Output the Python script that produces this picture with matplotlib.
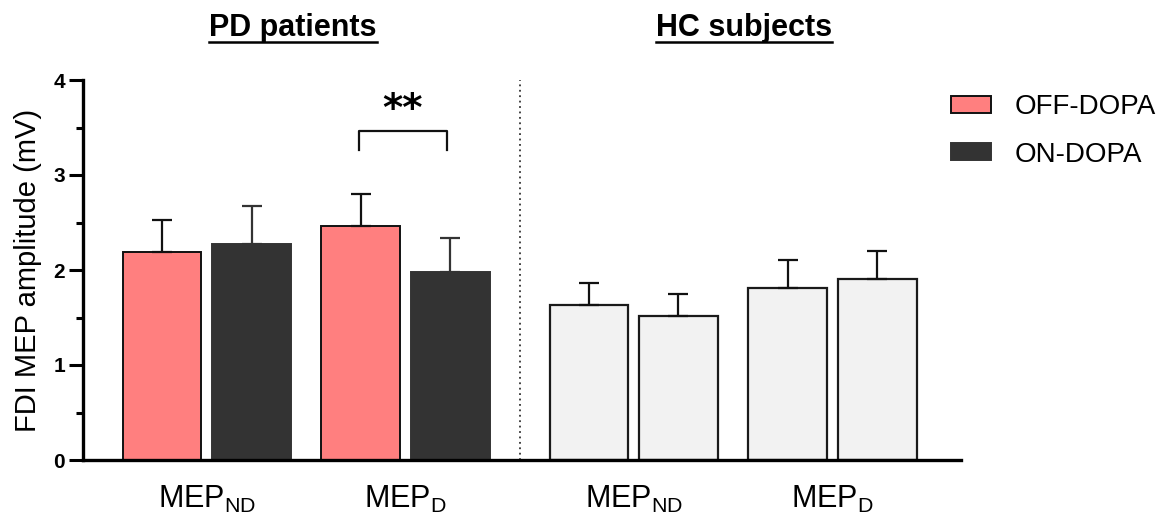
import matplotlib
matplotlib.use("Agg")
import matplotlib.pyplot as plt
from matplotlib import font_manager
from matplotlib.lines import Line2D
import numpy as np

def pick(*names):
    avail = {f.name for f in font_manager.fontManager.ttflist}
    for n in names:
        if n in avail:
            return n
    return "DejaVu Sans"

SANS = pick("Liberation Sans", "Arial", "DejaVu Sans")
NARROW = pick("Liberation Sans Narrow", "Liberation Sans", "DejaVu Sans")
plt.rcParams["font.family"] = [SANS, "DejaVu Sans"]
plt.rcParams["mathtext.fontset"] = "custom"
plt.rcParams["mathtext.rm"] = SANS
plt.rcParams["mathtext.it"] = SANS

# ---- data ----
groups = ["PD patients", "HC subjects"]
tick_labels = ["MEP$_{\\mathrm{ND}}$", "MEP$_{\\mathrm{D}}$", "MEP$_{\\mathrm{ND}}$", "MEP$_{\\mathrm{D}}$"]
series = ["OFF-DOPA", "ON-DOPA"]
pd_off = [2.19, 2.46]
pd_off_err = [0.34, 0.34]
pd_on = [2.27, 1.98]
pd_on_err = [0.40, 0.36]
hc_a = [1.63, 1.81]
hc_a_err = [0.23, 0.30]
hc_b = [1.52, 1.905]
hc_b_err = [0.23, 0.29]
sig_label = "**"

# layout
centers = np.array([1.0, 3.22, 5.77, 7.99])
off = 0.5
w = 0.88
pink = "#FF7F7F"
dark = "#333333"
light = "#F2F2F2"

fig = plt.figure(figsize=(11.67, 5.16), dpi=100)
ax = fig.add_axes([83/1167, 56/516, (961-83)/1167, 380/516])

errkw = dict(ecolor="#111111", elinewidth=1.6, capsize=7, capthick=1.6)
b1 = ax.bar(centers[:2]-off, pd_off, w, color=pink, edgecolor="#111111", linewidth=1.4,
            yerr=[np.zeros(2), pd_off_err], error_kw=errkw, label=series[0], zorder=2)
b2 = ax.bar(centers[:2]+off, pd_on, w, color=dark, edgecolor=dark, linewidth=1.4,
            yerr=[np.zeros(2), pd_on_err], error_kw=dict(errkw, ecolor="#333333"), label=series[1], zorder=2)
ax.bar(centers[2:]-off, hc_a, w, color=light, edgecolor="#1a1a1a", linewidth=1.6,
       yerr=[np.zeros(2), hc_a_err], error_kw=errkw, zorder=2)
ax.bar(centers[2:]+off, hc_b, w, color=light, edgecolor="#1a1a1a", linewidth=1.6,
       yerr=[np.zeros(2), hc_b_err], error_kw=errkw, zorder=2)

ax.set_xlim(-0.383, 9.427)
ax.set_ylim(0, 4)
sep = (centers[1] + centers[2]) / 2
ax.plot([sep, sep], [0, 4], linestyle=(0, (1, 2)), color="#333333", linewidth=1.3, zorder=1)

# significance bracket
x0, x1 = centers[1]-off-0.02, centers[1]+off-0.04
ax.plot([x0, x0, x1, x1], [3.26, 3.46, 3.46, 3.26], color="#111111", linewidth=1.6, clip_on=False)
ax.text((x0+x1)/2, 3.68, sig_label, ha="center", va="center", fontsize=28, fontweight="bold",
        family="DejaVu Sans")

for s in ["top", "right"]:
    ax.spines[s].set_visible(False)
ax.spines["left"].set_linewidth(2.4)
ax.spines["bottom"].set_linewidth(2.4)
ax.set_yticks([0, 1, 2, 3, 4])
ax.set_yticks([0.5, 1.5, 2.5, 3.5], minor=True)
ax.tick_params(axis="y", which="major", length=10, width=2.2, labelsize=15, pad=3)
ax.tick_params(axis="y", which="minor", length=5, width=2.2)
for lab in ax.get_yticklabels():
    lab.set_fontweight("bold")
ax.set_xticks(centers)
ax.set_xticklabels(tick_labels, fontsize=22)
ax.tick_params(axis="x", length=0, pad=17)
ax.set_ylabel("FDI MEP amplitude (mV)", fontsize=21, labelpad=8)

leg = fig.legend(handles=[b1, b2], labels=series, loc="upper left",
                 bbox_to_anchor=(951/1167, 1-94/516), frameon=False, fontsize=20,
                 handlelength=1.45, handleheight=0.55, handletextpad=0.85, labelspacing=0.78,
                 borderaxespad=0, borderpad=0)

# group titles (underlined)
titles = []
for gx, g in zip([293, 744], groups):
    t = fig.text(gx/1167, 1-28/516, g, ha="center", va="center", fontsize=22,
                 fontweight="bold", family=[NARROW, "DejaVu Sans"])
    titles.append(t)
fig.canvas.draw()
r = fig.canvas.get_renderer()
for t in titles:
    bb = t.get_window_extent(renderer=r)
    yline = bb.y0 + 1
    fig.add_artist(Line2D([bb.x0/fig.bbox.width, bb.x1/fig.bbox.width],
                          [yline/fig.bbox.height]*2, color="black", linewidth=1.8,
                          transform=fig.transFigure))

fig.savefig("out.png", dpi=100)
